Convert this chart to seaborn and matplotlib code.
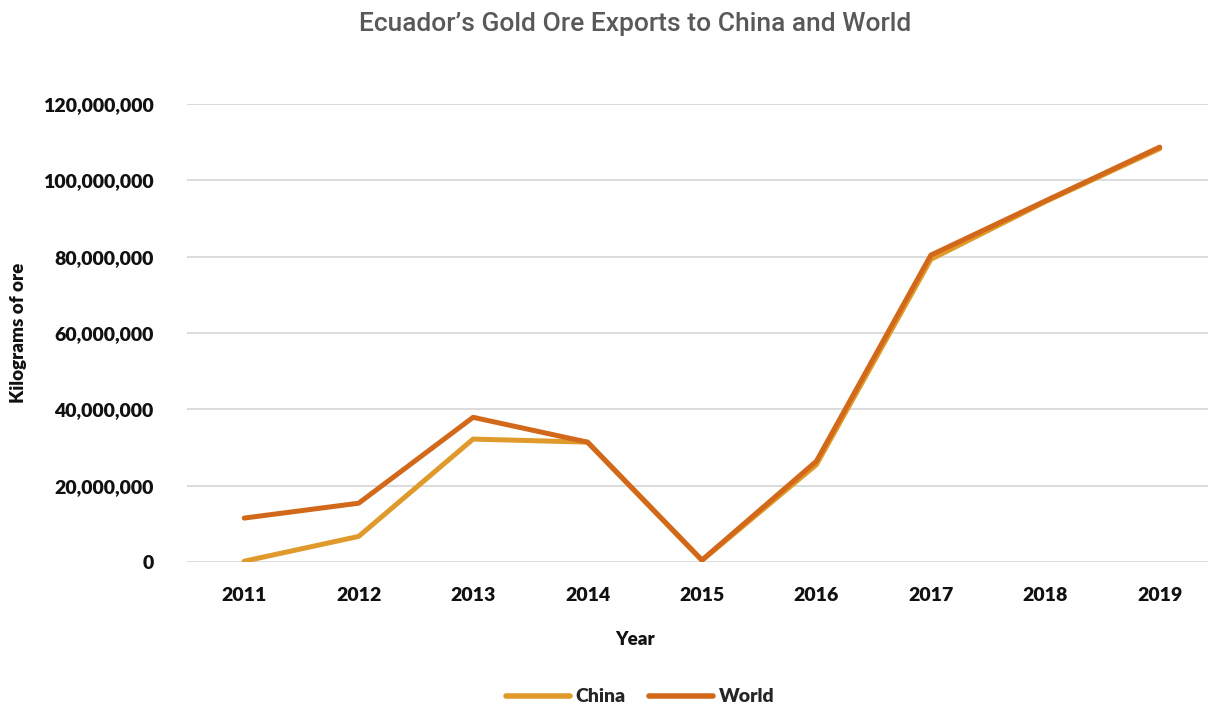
import matplotlib
matplotlib.use("Agg")
import matplotlib.pyplot as plt
from matplotlib.ticker import FuncFormatter, MultipleLocator
import pandas as pd
import seaborn as sns

# Ecuador gold ore exports, kilograms of ore
years = [2011, 2012, 2013, 2014, 2015, 2016, 2017, 2018, 2019]
china = [0.2e6, 6.7e6, 32.2e6, 31.4e6, 0.4e6, 25.5e6, 79.3e6, 94.4e6, 108.3e6]
world = [11.5e6, 15.4e6, 37.9e6, 31.4e6, 0.5e6, 26.4e6, 80.4e6, 94.6e6, 108.7e6]
series_names = ["China", "World"]
series_colors = ["#E09A2C", "#D2691A"]

df = pd.DataFrame({
    "Year": years * 2,
    "Kilograms": china + world,
    "Series": [series_names[0]] * len(years) + [series_names[1]] * len(years),
})

sns.set_style("white")
plt.rcParams["font.family"] = ["Lato", "DejaVu Sans"]
BOLD = "heavy"
TEXT = "#111111"

fig = plt.figure(figsize=(12.08, 7.06), dpi=100)
ax = fig.add_axes([0.1548, 0.2040, 0.8526, 0.6487])

sns.lineplot(data=df, x="Year", y="Kilograms", hue="Series",
             palette=dict(zip(series_names, series_colors)),
             linewidth=3.6, ax=ax, legend=False, solid_capstyle="round")

ax.set_xlim(2010.5, 2019.5)
ax.set_ylim(0, 120e6)
ax.yaxis.set_major_locator(MultipleLocator(20e6))
ax.set_xticks(years)
ax.yaxis.set_major_formatter(FuncFormatter(lambda v, p: f"{int(round(v)):,}"))
ax.grid(axis="y", color="#D9D9D9", linewidth=1.3)
ax.set_axisbelow(True)
for s in ax.spines.values():
    s.set_visible(False)
ax.tick_params(axis="both", length=0, labelsize=14, labelcolor=TEXT)
ax.tick_params(axis="y", pad=24)
ax.tick_params(axis="x", pad=18)
for lbl in ax.get_xticklabels() + ax.get_yticklabels():
    lbl.set_fontweight(BOLD)

ax.set_xlabel("Year", fontsize=13.5, fontweight=BOLD, color=TEXT)
ax.xaxis.set_label_coords(0.435, -0.15)
ax.set_ylabel("")
fig.text(0.015, 0.528, "Kilograms of ore", rotation=90, ha="center", va="center",
         fontsize=13.5, fontweight=BOLD, color=TEXT)

fig.text(0.526, 0.966, "Ecuador\u2019s Gold Ore Exports to China and World",
         ha="center", va="center", fontsize=19, color="#595959",
         family=["Roboto", "DejaVu Sans"], fontweight="medium")

handles = [plt.Line2D([], [], color=c, linewidth=4, solid_capstyle="round")
           for c in series_colors]
fig.legend(handles, series_names, loc="center", bbox_to_anchor=(0.53, 0.013),
           ncol=2, frameon=False, handlelength=3.3, handletextpad=0.3,
           columnspacing=1.2, prop={"weight": BOLD, "size": 14})

fig.savefig("out.png", dpi=100)
